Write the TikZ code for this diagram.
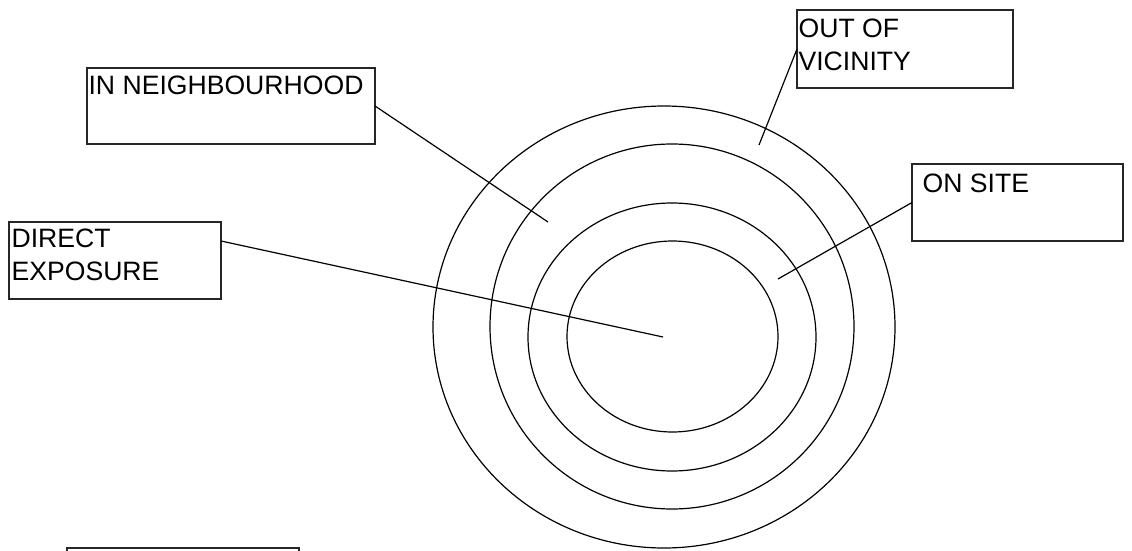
\documentclass[tikz,border=0pt]{standalone}
\usepackage{fontspec}
\setmainfont{Liberation Sans}
\usetikzlibrary{positioning}
\begin{document}
\begin{tikzpicture}[x=1pt, y=-1pt, line width=1.2pt,
  zone/.style={draw=black!85, line width=1.5pt, anchor=north west, inner sep=0pt, outer sep=0pt},
  tag/.style={anchor=north west, inner sep=0pt, align=left, font=\fontsize{26.6}{33.3}\selectfont}]
\useasboundingbox (0,0) rectangle (1132,551);
\draw (672.5,336.5) ellipse [x radius=105.5, y radius=95.5];
\draw (672,337) ellipse [x radius=144, y radius=134];
\draw (672,326.5) ellipse [x radius=182, y radius=182.5];
\draw (664,327) ellipse [x radius=231, y radius=221];
\node[zone, minimum width=288, minimum height=76] (nbh) at (87,68) {};
\node[zone, minimum width=212, minimum height=77] (dir) at (9,222) {};
\node[zone, minimum width=216, minimum height=78] (vic) at (797,10) {};
\node[zone, minimum width=211, minimum height=77] (site) at (912,164) {};
\node[zone, minimum width=232, minimum height=60] (blank) at (67,548) {};
\node[tag] (nbhtext) at (88,75) {IN NEIGHBOURHOOD};
\node[tag] (dirtext) at (11,228) {DIRECT\\EXPOSURE};
\node[tag] (victext) at (798,18) {OUT OF\\VICINITY};
\node[tag] (sitetext) at (922,173) {ON SITE};
\coordinate (nbhend) at (548,222);
\coordinate (dirend) at (663,337);
\coordinate (vicend) at (759,145);
\coordinate (siteend) at (778,279);
\draw (nbh.east) -- (nbhend);
\draw ([yshift=-19pt]dir.north east) -- (dirend);
\draw (vic.west) -- (vicend);
\draw (site.west) -- (siteend);
\end{tikzpicture}
\end{document}
